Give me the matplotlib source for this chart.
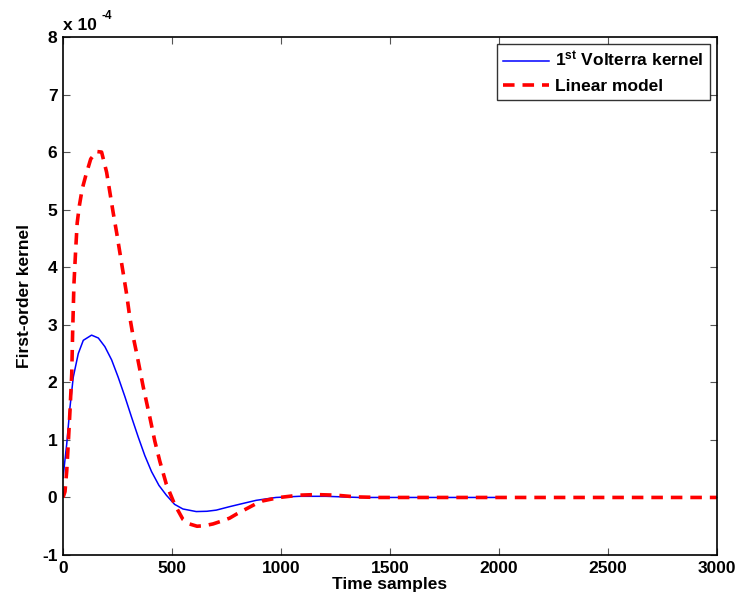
import matplotlib
matplotlib.use("Agg")
import matplotlib.pyplot as plt
from matplotlib.transforms import offset_copy

plt.rcParams['font.family'] = ['Liberation Sans', 'DejaVu Sans']
plt.rcParams['font.weight'] = 'bold'
plt.rcParams['axes.unicode_minus'] = False
plt.rcParams['mathtext.fontset'] = 'custom'
plt.rcParams['mathtext.rm'] = 'Liberation Sans:bold'
plt.rcParams['mathtext.bf'] = 'Liberation Sans:bold'
plt.rcParams['mathtext.default'] = 'rm'

# Values in units of 1e-4
volterra_t = [0, 8, 17, 32, 47, 70, 93, 131, 162, 192, 223, 253, 284, 314, 345,
              375, 406, 440, 474, 512, 550, 611, 660, 703, 764, 830, 886, 977,
              1084, 1206, 1359, 1500, 2000]
volterra_v = [0.34, 0.62, 0.93, 1.57, 2.09, 2.50, 2.73, 2.82, 2.77, 2.62, 2.39,
              2.09, 1.75, 1.40, 1.05, 0.73, 0.45, 0.21, 0.04, -0.12, -0.20,
              -0.245, -0.24, -0.22, -0.16, -0.10, -0.05, 0.0, 0.02, 0.02, 0.0,
              0.0, 0.0]

linear_t = [0, 9, 17, 24, 32, 40, 44, 50, 58, 65, 75, 88, 105, 127, 154, 177,
            200, 215, 230, 246, 261, 276, 291, 306, 322, 338, 368, 399, 421, 444,
            474, 512, 550, 580, 615, 650, 688, 720, 764, 800, 840, 880, 916, 993,
            1084, 1160, 1252, 1343, 1450, 1600, 2000, 2500, 3000]
linear_v = [0.0, 0.1, 0.46, 0.93, 1.51, 2.15, 2.85, 3.7, 4.3, 4.77, 5.07, 5.36,
            5.6, 5.88, 6.01, 6.0, 5.65, 5.30, 4.95, 4.60, 4.25, 3.90, 3.55, 3.14,
            2.79, 2.50, 1.92, 1.38, 0.98, 0.63, 0.23, -0.12, -0.38, -0.46, -0.5,
            -0.49, -0.46, -0.42, -0.36, -0.28, -0.2, -0.12, -0.06, 0.0, 0.04,
            0.05, 0.04, 0.01, 0.0, 0.0, 0.0, 0.0, 0.0]

xticks = [0, 500, 1000, 1500, 2000, 2500, 3000]
yticks = [-1, 0, 1, 2, 3, 4, 5, 6, 7, 8]

FS = 12.5

fig = plt.figure(figsize=(7.38, 6.01), dpi=100)
ax = fig.add_axes([0.0854, 0.0765, 0.886, 0.862])

ax.plot(volterra_t, volterra_v, color='#0000ff', lw=1.1,
        label=r'1$^{\mathbf{st}}$ Volterra kernel')
ax.plot(linear_t, linear_v, color='#ff0000', lw=2.6, ls=(0, (3.2, 2.2)),
        label='Linear model')

ax.set_xlim(0, 3000)
ax.set_ylim(-1, 8)
ax.set_xticks(xticks)
ax.set_yticks(yticks)
ax.tick_params(direction='in', top=True, right=True, labelsize=FS, length=5,
               width=0.8, color='#555555', pad=4)
for lab in ax.get_xticklabels() + ax.get_yticklabels():
    lab.set_fontweight('bold')
for s in ax.spines.values():
    s.set_linewidth(1.2)

ax.set_xlabel('Time samples', fontsize=FS, fontweight='bold', labelpad=1)
ax.set_ylabel('First-order kernel', fontsize=FS, fontweight='bold', labelpad=7)

# exponent label "x 10^-4" (with a plain hyphen, as in the reference)
ax.text(0.0, 1.008, 'x 10', transform=ax.transAxes, fontsize=FS,
        fontweight='bold', ha='left', va='bottom')
sup_tr = offset_copy(ax.transAxes, fig=fig, x=27.5, y=7.5, units='points')
ax.text(0.0, 1.008, '-4', transform=sup_tr, fontsize=8.5,
        fontweight='bold', ha='left', va='bottom')

leg = ax.legend(loc='upper right', fontsize=FS, frameon=True, fancybox=False,
                edgecolor='black', borderaxespad=0.4, handlelength=2.65,
                borderpad=0.35, labelspacing=0.55, handletextpad=0.35)
leg.get_frame().set_linewidth(1.0)
for t in leg.get_texts():
    t.set_fontweight('bold')

fig.savefig('out.png', dpi=100)
